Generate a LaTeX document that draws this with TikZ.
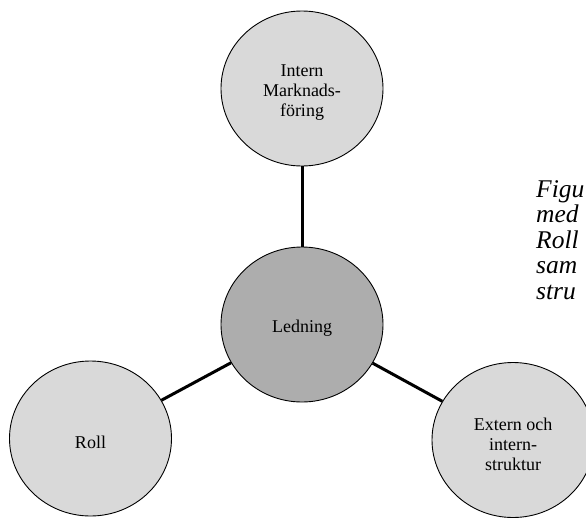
\documentclass[tikz,border=0pt]{standalone}
\usepackage{fontspec}
\setmainfont{Liberation Serif}
\usetikzlibrary{shapes.geometric}
\begin{document}
\begin{tikzpicture}[x=1pt,y=-1pt,
  bubble/.style={ellipse,draw=black,line width=0.9pt,minimum width=162pt,minimum height=155pt,inner sep=0pt},
  outer/.style={bubble,fill=black!15},
  hub/.style={bubble,fill=black!32},
  bubbletext/.style={align=center,font=\fontsize{18}{20}\selectfont},
  link/.style={line width=3pt},
  sidenote/.style={anchor=base west,inner sep=0pt,font=\fontsize{25.5}{27}\selectfont\itshape}]
\useasboundingbox (0,0) rectangle (586,517);

% the four bubbles
\node[outer] (mark) at (302,88.5) {};
\node[hub]   (led)  at (302,324.5) {};
\node[outer] (roll) at (90.5,438.5) {};
\node[outer] (str)  at (513,440) {};

% links from the central bubble
\draw[link] (mark) -- (led);
\draw[link] (led) -- (roll);
\draw[link] (led) -- (str);

% bubble texts
\node[bubbletext] (tmark) at (302,93) {Intern\\Marknads-\\föring};
\node[bubbletext] (tled)  at (302,328) {Ledning};
\node[bubbletext] (troll) at (90.5,442) {Roll};
\node[bubbletext] (tstr)  at (513,444) {Extern och\\intern-\\struktur};

% caption at the right edge, cut by the page
\node[sidenote] (c1) at (536,197) {Figu};
\node[sidenote] (c2) at (536,222.5) {med};
\node[sidenote] (c3) at (536,248) {Roll};
\node[sidenote] (c4) at (536,273.5) {sam};
\node[sidenote] (c5) at (536,299) {stru};
\end{tikzpicture}
\end{document}
